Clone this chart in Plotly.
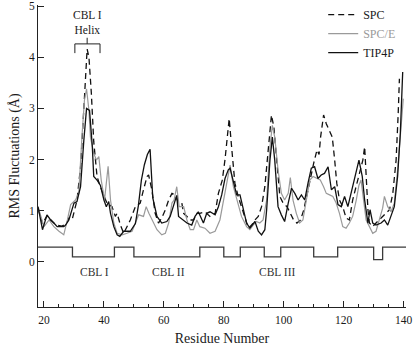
import plotly.graph_objects as go

# ---- data ----
tip4p_x = [18, 19.5, 21, 22.2, 23.3, 24.4, 26.6, 27.2, 28.3, 30, 31, 32.2, 33.3, 34.2, 35.2, 36.1, 36.6,
           37.7, 38.8, 40, 40.8, 41.6, 42.2, 43.3, 44.4, 45.3, 46.6, 48.8, 50.5, 51.5, 52.5, 53.5, 54.5,
           55.4, 56.3, 57.7, 59.3, 61, 62.1, 63.2, 64.3, 64.9, 66, 67.7, 69.3, 70.4, 71.5, 72.1, 73.2,
           74.3, 75.4, 77.1, 78.2, 79.3, 80.4, 81.5, 82.1, 83.2, 84.3, 85.4, 86.5, 87.6, 88.7, 89.8,
           90.4, 91.5, 92.6, 93.7, 94.3, 95.4, 96.2, 97, 98.1, 99.2, 100.3, 101.5, 102.6, 103.7, 104.8,
           105.9, 107, 108.1, 109.2, 110.3, 111.4, 112.5, 113.6, 114.8, 115.9, 117, 118.1, 119.2, 120.3,
           121.4, 122.5, 123.6, 125.1, 126.2, 127, 128.1, 128.8, 129.7, 130.8, 132.5, 133.6, 134.7,
           135.8, 136.9, 138, 138.9, 139.7]
tip4p_y = [1.08, 0.63, 0.92, 0.82, 0.76, 0.69, 0.69, 0.72, 0.82, 1.15, 1.18, 1.47, 2.38, 3.0, 2.96, 2.28, 1.67,
           1.6, 1.5, 1.21, 1.08, 1.18, 0.95, 0.69, 0.53, 0.5, 0.6, 0.6, 0.75, 1.1, 1.6, 1.9, 2.1,
           2.2, 1.25, 0.89, 0.76, 0.79, 0.89, 1.08, 1.3, 0.89, 0.84, 0.76, 0.72, 0.89, 0.98, 0.89, 0.76,
           0.95, 0.98, 0.92, 1.08, 1.31, 1.63, 1.8, 1.83, 1.57, 1.31, 1.31, 1.02, 0.76, 0.66, 0.76,
           0.79, 0.6, 0.53, 0.63, 1.02, 1.99, 2.44, 1.99, 1.08, 0.92, 0.79, 1.15, 1.44, 1.34, 1.21,
           1.31, 1.21, 1.54, 1.83, 1.86, 1.63, 1.7, 1.73, 1.86, 1.41, 1.47, 1.12, 1.08, 1.28,
           1.08, 1.34, 1.63, 1.99, 1.67, 1.21, 0.76, 1.02, 0.76, 0.72, 0.76, 0.82, 0.72,
           0.89, 1.08, 1.67, 2.51, 3.71]

spc_x = [18, 19.5, 21, 22.5, 24, 26, 27.5, 28.5, 29.5, 31, 32.2, 33.3, 34.4, 35, 35.8, 36.6, 37.7, 38.8,
         40, 41, 42.7, 43.8, 44.4, 45.5, 46.6, 47.7, 48.8, 50.5, 52.1, 53.2, 54.4, 54.9, 56, 57.1, 58.2,
         59.3, 60.5, 61.6, 62.7, 63.8, 64.9, 66, 66.6, 67.7, 68.8, 69.9, 71, 72, 73.7, 75.4, 77.1, 78.2,
         79.5, 80.4, 81.8, 82.6, 83.7, 84.8, 85.9, 87.1, 88.2, 89.3, 90.4, 91.5, 92.6, 93.7, 94.8, 95.9,
         96.7, 97.6, 98.7, 99.8, 101.1, 102.2, 103.3, 104.4, 105.6, 106.7, 107.8, 108.9, 110, 111.1,
         111.8, 112.3, 113.3, 114.2, 115.3, 116.2, 117, 117.7, 118.6, 119.7, 120.8, 121.9, 123, 124.2,
         125.3, 126.4, 127, 127.5, 128.1, 128.6, 129.7, 130.8, 131.9, 133, 134.1, 135.3, 136.4, 137.5,
         138.2, 138.6]
spc_y = [1.05, 0.75, 0.9, 0.8, 0.72, 0.7, 0.75, 0.88, 0.85, 1.2, 1.86, 3.0, 4.16, 4.0, 3.3, 2.35, 1.67, 1.47,
         1.28, 1.15, 1.08, 0.89, 0.95, 0.72, 0.56, 0.69, 0.82, 1.08, 1.15, 1.41, 1.67, 1.7, 1.41, 0.95, 0.76,
         0.86, 1.02, 1.21, 1.34, 1.31, 1.15, 1.15, 0.95, 0.89, 0.82, 0.82, 0.95, 0.95, 0.98, 0.89, 0.95, 1.34,
         1.6, 2.0, 2.8, 2.25, 1.54, 1.28, 1.08, 0.82, 0.66, 0.72, 0.82, 0.89, 1.08, 1.47, 2.12, 2.87,
         2.64, 1.99, 1.28, 1.15, 1.08, 0.95, 0.82, 0.76, 0.82, 1.02, 1.34, 1.6, 1.93, 2.19,
         2.1, 2.44, 2.87, 2.7, 2.57, 2.44, 1.99, 1.54, 1.21, 1.08, 0.86, 0.82, 1.21, 1.47,
         1.73, 1.99, 2.25, 1.67, 1.02, 0.76, 0.69, 0.76, 0.82, 0.89, 0.95, 1.02, 1.34, 1.99,
         2.9, 3.58]

spce_x = [18, 18.9, 20, 21.7, 23.3, 25, 26.6, 27.8, 28.9, 30.5, 31.6, 32.7, 33.5, 34.2, 35, 35.5, 36.6, 37.5,
          38.3, 39.1, 40.2, 40.8, 41.4, 42.2, 43.3, 44.4, 46.1, 47.7, 49.4, 50.5, 51.6, 53.2, 54.1, 55, 56,
          57.7, 59.3, 60.5, 61.6, 62.7, 63.4, 64.3, 65.1, 66.6, 67.7, 68.8, 69.9, 71, 72, 73.7, 75.4, 77.1,
          78.7, 79.8, 81, 82.1, 83.2, 84.3, 85.9, 87.6, 88.7, 89.8, 90.9, 92, 93.1, 94.3, 95.4, 96.2, 97,
          98.1, 99.2, 100.3, 101.5, 102.2, 103.1, 104.2, 105.3, 106.4, 107.6, 108.7, 109.8, 111.1, 112.2,
          113.3, 114.2, 115.3, 116.4, 117.5, 118.6, 119.7, 120.8, 121.9, 123, 124.2, 125.1, 125.8, 126.6,
          127.5, 128.6, 129.7, 130.8, 131.9, 133, 133.6, 134.7, 135.8, 136.9, 138, 139.1, 139.9]
spce_y = [1.08, 0.9, 0.69, 0.82, 0.69, 0.6, 0.53, 0.82, 1.12, 1.21, 1.34, 2.48, 3.16, 3.38, 2.96, 2.44, 2.12, 1.99,
          2.06, 1.6, 1.21, 1.54, 1.87, 1.21, 0.76, 0.56, 0.53, 0.56, 0.6, 0.76, 0.92, 0.89, 1.08, 0.95, 0.82,
          0.63, 0.53, 0.56, 0.76, 1.15, 1.21, 1.47, 1.08, 1.08, 0.82, 0.63, 0.63, 0.82, 0.69, 0.66, 0.56, 0.6,
          0.82, 1.15, 1.5, 1.89, 1.47, 1.21, 0.89, 0.69, 0.63, 0.72, 0.79, 0.76, 0.82, 1.21, 2.25, 2.67, 2.44,
          1.8, 1.34, 1.21, 1.34, 1.65, 1.21, 0.95, 0.76, 0.82, 1.21, 1.6, 1.67, 1.63, 1.6,
          1.47, 1.34, 1.31, 1.28, 1.15, 0.95, 0.69, 0.66, 0.76, 0.89, 1.21, 1.5, 1.6, 1.21,
          0.82, 0.69, 0.56, 0.6, 0.82, 1.05, 1.28, 1.08, 0.98, 1.15, 1.8, 2.64, 3.19]

# secondary-structure step profile
ss_x = [18, 29.5, 43.5, 50, 72, 80, 85.5, 93.5, 99, 110, 118, 130, 133, 141]
ss_y = [0.29, 0.1, 0.29, 0.1, 0.29, 0.1, 0.29, 0.1, 0.29, 0.1, 0.29, 0.045, 0.29, 0.29]

region_labels = ["CBL I", "CBL II", "CBL III"]
region_pos = [37, 61.6, 97.6]

x_ticks = [20, 40, 60, 80, 100, 120, 140]
y_ticks = [0, 1, 2, 3, 4, 5]

FONT = "Liberation Serif"
INK = "#1a1a1a"

fig = go.Figure()
fig.add_trace(go.Scatter(x=ss_x, y=ss_y, mode="lines", line=dict(shape="hv", color="#3a3a3a", width=1.3),
                         showlegend=False, hoverinfo="skip", cliponaxis=False))
fig.add_trace(go.Scatter(x=spc_x, y=spc_y, mode="lines", name="SPC",
                         line=dict(color="#111111", width=1.3, dash="6px,4px")))
fig.add_trace(go.Scatter(x=spce_x, y=spce_y, mode="lines", name="<span style='color:#9a9a9a'>SPC/E</span>",
                         line=dict(color="#9a9a9a", width=1.2)))
fig.add_trace(go.Scatter(x=tip4p_x, y=tip4p_y, mode="lines", name="TIP4P",
                         line=dict(color="#111111", width=1.3)))

for lab, pos in zip(region_labels, region_pos):
    fig.add_annotation(x=pos, y=-0.2, text=lab, showarrow=False,
                       font=dict(family=FONT, size=11.5, color="#333333"))

fig.add_annotation(x=34.4, y=4.68, text="CBL I<br>Helix", showarrow=False,
                   font=dict(family=FONT, size=11.5, color=INK))
fig.add_shape(type="path", path="M 30.3,4.08 L 30.3,4.26 L 38.7,4.26 L 38.7,4.08",
              line=dict(color="#222222", width=1))
fig.add_shape(type="line", x0=34.4, x1=34.4, y0=4.26, y1=4.38, line=dict(color="#222222", width=1))

fig.update_layout(
    width=416, height=346,
    margin=dict(l=38, r=10, t=5, b=39, autoexpand=False),
    paper_bgcolor="white", plot_bgcolor="white",
    font=dict(family=FONT, color=INK, size=11.5),
    legend=dict(x=0.775, y=1.016, xanchor="left", yanchor="top", bgcolor="rgba(0,0,0,0)",
                font=dict(family=FONT, size=12, color=INK), tracegroupgap=0),
    xaxis=dict(range=[18, 140.8], tickvals=x_ticks, showline=True, linecolor="#222222", linewidth=1,
               ticks="inside", ticklen=6, tickcolor="#222222", showgrid=False, zeroline=False,
               automargin=False,
               minor=dict(dtick=5, tick0=0, ticks="inside", ticklen=3, tickcolor="#222222"),
               title=dict(text="Residue Number", font=dict(family=FONT, size=14), standoff=10),
               tickfont=dict(family=FONT, size=11.5), ticklabelstandoff=2),
    yaxis=dict(range=[-0.88, 5.02], tickvals=y_ticks, showline=True, linecolor="#222222", linewidth=1,
               ticks="inside", ticklen=6, tickcolor="#222222", showgrid=False, zeroline=False,
               automargin=False,
               title=dict(text="RMS Fluctuations (Å)", font=dict(family=FONT, size=14), standoff=6),
               tickfont=dict(family=FONT, size=11.5)),
)

fig.write_html("out.html", config={"displayModeBar": False},
               post_script="document.body.style.margin='0';document.body.style.overflow='hidden';")
